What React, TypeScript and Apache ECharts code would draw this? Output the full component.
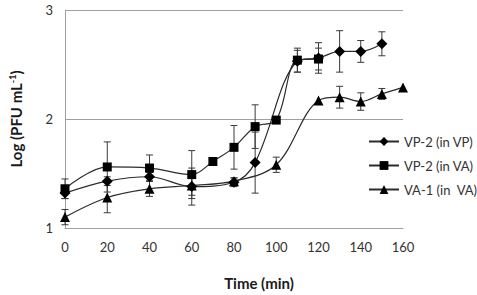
import React, { useEffect, useRef } from "react";
import * as echarts from "echarts";

// Time points (min), mean Log(PFU/mL) and standard deviation for each phage/host pair
const vpInVpTime = [0, 20, 40, 60, 80, 90, 110, 120, 130, 140, 150];
const vpInVpLog = [1.32, 1.43, 1.47, 1.38, 1.42, 1.6, 2.53, 2.56, 2.62, 2.62, 2.69];
const vpInVpSd = [0.05, 0.04, 0.04, 0.17, 0.04, 0.28, 0.1, 0.14, 0.19, 0.1, 0.11];

const vpInVaTime = [0, 20, 40, 60, 70, 80, 90, 100, 110, 120];
const vpInVaLog = [1.36, 1.56, 1.55, 1.49, 1.61, 1.74, 1.93, 1.99, 2.54, 2.55];
const vpInVaSd = [0.09, 0.23, 0.12, 0.22, 0, 0.2, 0.2, 0, 0.11, 0.1];

const vaInVaTime = [0, 20, 40, 60, 80, 100, 120, 130, 140, 150, 160];
const vaInVaLog = [1.1, 1.28, 1.36, 1.39, 1.43, 1.58, 2.17, 2.2, 2.16, 2.23, 2.29];
const vaInVaSd = [0.07, 0.14, 0.07, 0.09, 0.03, 0.07, 0, 0.1, 0.08, 0.05, 0];

const seriesNames = ["VP-2 (in VP)", "VP-2 (in VA)", "VA-1 (in  VA)"];
const xTicks = { min: 0, max: 160, interval: 20 };
const yTicks = { min: 1, max: 3, interval: 1 };

const FONT = "Lato, 'Open Sans', sans-serif";

function pairs(t: number[], v: number[]) {
  return t.map((x, i) => [x, v[i]]);
}
function triples(t: number[], v: number[], s: number[]) {
  return t.map((x, i) => [x, v[i], s[i]]).filter((d) => d[2] > 0);
}

const errorRender = (params: any, api: any) => {
  const x = api.value(0);
  const y = api.value(1);
  const e = api.value(2);
  const top = api.coord([x, y + e]);
  const bot = api.coord([x, y - e]);
  const half = 3.5;
  const style = { stroke: "#3a3a3a", lineWidth: 1 };
  return {
    type: "group",
    children: [
      { type: "line", shape: { x1: top[0], y1: top[1], x2: bot[0], y2: bot[1] }, style },
      { type: "line", shape: { x1: top[0] - half, y1: top[1], x2: top[0] + half, y2: top[1] }, style },
      { type: "line", shape: { x1: bot[0] - half, y1: bot[1], x2: bot[0] + half, y2: bot[1] }, style },
    ],
  };
};

export default function App() {
  const ref = useRef<HTMLDivElement>(null);

  useEffect(() => {
    if (!ref.current) return;
    const chart = echarts.init(ref.current, null, { renderer: "svg" });

    const lineSeries = (name: string, data: number[][], symbol: string, size: number) => ({
      name,
      type: "line",
      data,
      smooth: 0.35,
      symbol,
      symbolSize: size,
      z: 3,
      lineStyle: { color: "#2b2b2b", width: 1.2 },
      itemStyle: { color: "#000", borderWidth: 0 },
    });

    const errSeries = (data: number[][]) => ({
      type: "custom",
      renderItem: errorRender,
      data,
      z: 2,
      silent: true,
      encode: { x: 0, y: 1 },
    });

    chart.setOption({
      animation: false,
      backgroundColor: "#fff",
      grid: { left: 51, right: 74, top: 10, bottom: 67 },
      xAxis: {
        type: "value",
        min: xTicks.min,
        max: xTicks.max,
        interval: xTicks.interval,
        name: "Time (min)",
        nameLocation: "middle",
        nameGap: 47,
        nameTextStyle: {
          fontFamily: FONT,
          fontWeight: "bold",
          fontSize: 15,
          color: "#1a1a1a",
          padding: [0, 0, 0, 50],
        },
        axisLine: { show: true, lineStyle: { color: "#a0a0a0", width: 1 } },
        axisTick: { show: false },
        splitLine: { show: false },
        axisLabel: { fontFamily: FONT, fontSize: 13, color: "#333", margin: 12 },
      },
      yAxis: {
        type: "value",
        min: yTicks.min,
        max: yTicks.max,
        interval: yTicks.interval,
        name: "Log (PFU mL{sup|-1})",
        nameLocation: "middle",
        nameRotate: 90,
        nameGap: 41,
        nameTextStyle: {
          fontFamily: FONT,
          fontWeight: "bold",
          fontSize: 15,
          color: "#1a1a1a",
          rich: {
            sup: { fontFamily: FONT, fontWeight: "bold", fontSize: 9, color: "#1a1a1a", verticalAlign: "top", padding: [0, 0, 7, 0] },
          },
        },
        axisLine: { show: true, lineStyle: { color: "#a0a0a0", width: 1 } },
        axisTick: { show: false },
        splitLine: { show: true, lineStyle: { color: "#a0a0a0", width: 1 } },
        axisLabel: { fontFamily: FONT, fontSize: 13, color: "#333", margin: 12, padding: [0, 0, 4, 0] },
      },
      legend: {
        orient: "vertical",
        left: 363,
        top: 130,
        itemWidth: 30,
        itemHeight: 11,
        itemGap: 11,
        data: seriesNames,
        textStyle: { fontFamily: FONT, fontSize: 13, color: "#333" },
      },
      series: [
        errSeries(triples(vpInVpTime, vpInVpLog, vpInVpSd)),
        errSeries(triples(vpInVaTime, vpInVaLog, vpInVaSd)),
        errSeries(triples(vaInVaTime, vaInVaLog, vaInVaSd)),
        lineSeries(seriesNames[0], pairs(vpInVpTime, vpInVpLog), "diamond", 11),
        lineSeries(seriesNames[1], pairs(vpInVaTime, vpInVaLog), "rect", 9),
        lineSeries(seriesNames[2], pairs(vaInVaTime, vaInVaLog), "triangle", 10),
      ],
    });

    return () => chart.dispose();
  }, []);

  return (
    <div
      ref={ref}
      style={{ position: "fixed", left: 0, top: 0, width: 477, height: 295 }}
    />
  );
}
